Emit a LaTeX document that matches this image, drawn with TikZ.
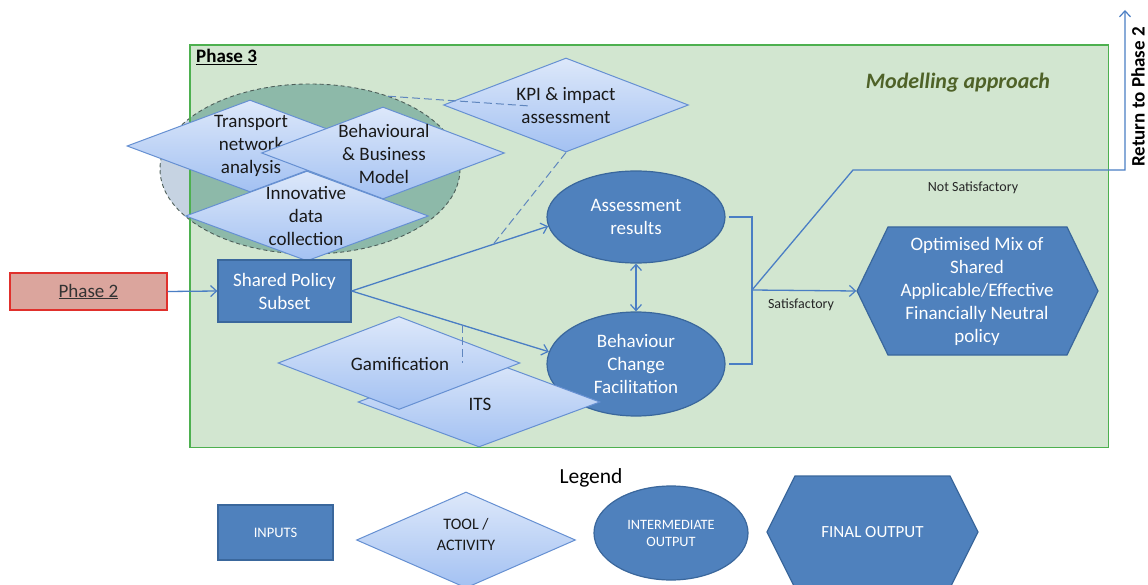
\documentclass[tikz,border=0pt]{standalone}
\usepackage{fontspec}
\setmainfont{Carlito}
\usetikzlibrary{shapes.geometric,arrows.meta,calc}
\definecolor{bluefill}{HTML}{4F81BD}
\definecolor{blueedge}{HTML}{3A679C}
\definecolor{linkblue}{HTML}{4A7EC4}
\definecolor{toptool}{HTML}{DDE8FA}
\definecolor{bottool}{HTML}{A3C1F2}
\definecolor{tooledge}{HTML}{6690D2}
\definecolor{greenbg}{HTML}{D2E6D0}
\definecolor{greenedge}{HTML}{4DB04F}
\definecolor{ellfill}{HTML}{8DB9A9}
\definecolor{ellout}{HTML}{C6D3E2}
\definecolor{elledge}{HTML}{4D5E58}
\definecolor{phasefill}{HTML}{DBA59D}
\definecolor{phaseedge}{HTML}{E0302C}
\definecolor{darkgreen}{HTML}{4F6228}
\definecolor{dashblue}{HTML}{5F86BE}
\tikzset{
  tooldia/.style={diamond, draw=tooledge, line width=1pt, top color=toptool, bottom color=bottool, inner sep=0pt},
  tooltext/.style={align=center, text=black!90, font=\fontsize{19}{23}\selectfont, inner sep=0pt},
  inputbox/.style={rectangle, draw=blueedge, line width=1.2pt, fill=bluefill, text=white, align=center, inner sep=0pt},
  interm/.style={ellipse, draw=blueedge, line width=1.2pt, fill=bluefill, text=white, align=center, inner sep=0pt},
  hexfill/.style={draw=blueedge, line width=1.2pt, fill=bluefill},
  link/.style={draw=linkblue, line width=1.3pt},
  arrowlink/.style={link, -{Straight Barb[length=6pt,width=11pt,line width=1.2pt]}},
  dashlink/.style={draw=dashblue, line width=1pt, dash pattern=on 8pt off 4pt},
  mainfont/.style={font=\fontsize{19}{23}\selectfont},
  smalllabel/.style={font=\fontsize{14}{16}\selectfont, text=black!85, inner sep=0pt}
}
\begin{document}
\begin{tikzpicture}[x=1pt,y=-1pt]
\useasboundingbox[fill=white] (0,0) rectangle (1148,585);
% Phase 3 frame (fill)
\node[fill=greenbg, minimum width=918, minimum height=402, inner sep=0pt, anchor=north west] (frame) at (190,45) {};
% group ellipse (semi-transparent look)
\node[ellipse, fill=ellout, minimum width=300, minimum height=170, inner sep=0pt] (grp) at (310,169) {};
\begin{scope}
  \clip (frame.north west) rectangle (frame.south east);
  \fill[ellfill] (grp.center) ellipse[x radius=150, y radius=85];
\end{scope}
\draw[draw=elledge, line width=0.9pt, dash pattern=on 4pt off 3pt] (grp.center) ellipse[x radius=150, y radius=85];
\draw[draw=greenedge, line width=1.2pt] (frame.north west) rectangle (frame.south east);
\node[anchor=north west, inner sep=0pt, font=\fontsize{19}{21}\selectfont\bfseries] (p3) at (196,49) {\underline{Phase 3}};
\node[font=\fontsize{22}{26}\selectfont\bfseries\itshape, text=darkgreen, inner sep=0pt] (ma) at (958,83) {Modelling approach};
% tool diamonds
\node[tooldia, minimum width=246, minimum height=92] (tna) at (250,146) {};
\node[tooltext] (tnat) at (251,146) {Transport\\network\\analysis};
\node[tooldia, minimum width=243, minimum height=92] (bbm) at (383,153) {};
\node[tooltext] (bbmt) at (384,154) {Behavioural\\\& Business\\Model};
\node[tooldia, minimum width=243, minimum height=90] (idc) at (307,216) {};
\node[tooltext] (idct) at (306,216) {Innovative\\data\\collection};
\node[tooldia, minimum width=245, minimum height=94] (kpi) at (566,105) {};
\node[tooltext] (kpit) at (566,106) {KPI \& impact\\assessment};
% inputs
\node[draw=phaseedge, line width=1.2pt, fill=phasefill, minimum width=157, minimum height=37, inner sep=0pt, mainfont, text=black!80] (ph2) at (88.5,291.5) {\underline{Phase 2}};
\node[inputbox, mainfont, minimum width=133, minimum height=62] (sps) at (284.5,291) {Shared Policy\\Subset};
% intermediate outputs
\node[interm, mainfont, minimum width=178, minimum height=92] (ar) at (636,217) {Assessment\\results};
\node[interm, mainfont, minimum width=178, minimum height=104] (bc) at (636,364) {Behaviour\\Change\\Facilitation};
% ITS and Gamification
\node[tooldia, minimum width=242, minimum height=90] (its) at (479,402) {};
\node[tooltext] (itst) at (480,404) {ITS};
\node[tooldia, minimum width=242, minimum height=93] (gam) at (399,363) {};
\node[tooltext] (gamt) at (400,364) {Gamification};
% final output hexagon
\coordinate (optc) at (977,291);
\path[hexfill] ($(optc)+(-120,0)$) -- ($(optc)+(-89,-64)$) -- ($(optc)+(90,-64)$) -- ($(optc)+(121,0)$) -- ($(optc)+(90,64)$) -- ($(optc)+(-89,64)$) -- cycle;
\node[align=center, text=white, mainfont, minimum width=241, minimum height=128, inner sep=0pt] (opt) at (optc) {Optimised Mix of\\Shared\\Applicable/Effective\\Financially Neutral\\policy};
% connectors
\draw[arrowlink] (ph2.east) -- (sps.west);
\draw[arrowlink] (sps.east) -- (ar.186);
\draw[arrowlink] (sps.east) -- (bc.172);
\draw[link, {Straight Barb[length=6pt,width=11pt,line width=1.2pt]}-{Straight Barb[length=6pt,width=11pt,line width=1.2pt]}] (ar.south) -- (bc.north);
\coordinate (jn) at (752,290);
\draw[link] ([xshift=3pt]ar.east) -- (ar.east -| jn) -- (bc.east -| jn) -- ([xshift=3pt]bc.east);
\draw[arrowlink] (jn) -- (opt.west) node[pos=0.47, below=8pt, smalllabel] (sat) {Satisfactory};
\coordinate (ns1) at (853,170);
\coordinate (ns2) at (1125,170);
\coordinate (ret) at (1125,10);
\draw[arrowlink] (jn) -- (ns1) -- (ns2) -- (ret);
\node[smalllabel] (nsat) at (973,188) {Not Satisfactory};
\node[rotate=90, font=\fontsize{19}{21}\selectfont\bfseries, inner sep=0pt] (rtp) at (1138,97) {Return to Phase 2};
% dashed support lines
\coordinate (kpiin) at (530,106);
\draw[dashlink] (grp.43) -- (kpiin);
\coordinate (armid) at ($(sps.east)!0.72!(ar.186)$);
\draw[dashlink] (kpi.south) -- (armid);
\coordinate (bcmid) at ($(sps.east)!0.563!(bc.172)$);
\coordinate (gamin) at (bcmid |- gam.center);
\draw[dashlink] (bcmid) -- (gamin);
% legend
\node[font=\fontsize{21.5}{24}\selectfont, inner sep=0pt] (leg) at (591,478) {Legend};
\node[inputbox, minimum width=115, minimum height=55, font=\fontsize{14.5}{16}\selectfont] (lin) at (275.5,532.5) {INPUTS};
\node[tooldia, minimum width=219, minimum height=96] (ltool) at (466,540) {};
\node[tooltext, font=\fontsize{16}{21}\selectfont] (ltoolt) at (466,534) {TOOL /\\ACTIVITY};
\node[interm, minimum width=154, minimum height=94, font=\fontsize{14.3}{17}\selectfont] (lint) at (671,533) {INTERMEDIATE\\OUTPUT};
\coordinate (lfc) at (872.5,532);
\path[hexfill] ($(lfc)+(-105.5,0)$) -- ($(lfc)+(-77.5,-56)$) -- ($(lfc)+(77.5,-56)$) -- ($(lfc)+(105.5,0)$) -- ($(lfc)+(77.5,56)$) -- ($(lfc)+(-77.5,56)$) -- cycle;
\node[text=white, font=\fontsize{17}{20}\selectfont, inner sep=0pt] (lfin) at (lfc) {FINAL OUTPUT};
\end{tikzpicture}
\end{document}
